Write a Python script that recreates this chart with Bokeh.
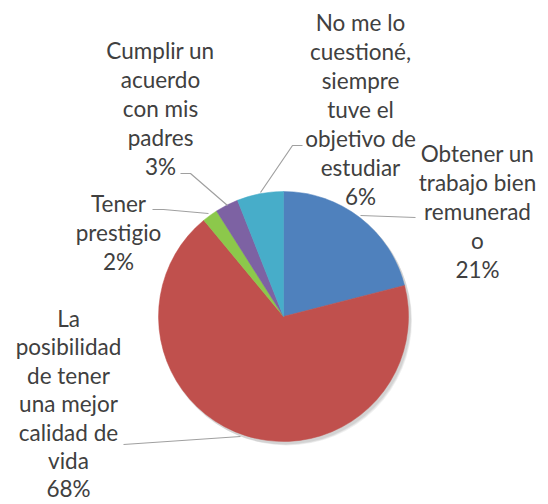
import math
from bokeh.plotting import figure
from bokeh.models import Range1d
from bokeh.core.properties import value
from bokeh.embed import file_html
from bokeh.resources import INLINE

# ---- data ----
categories = [
    "Obtener un trabajo bien remunerado",
    "La posibilidad de tener una mejor calidad de vida",
    "Tener prestigio",
    "Cumplir un acuerdo con mis padres",
    "No me lo cuestioné, siempre tuve el objetivo de estudiar",
]
label_lines = [
    ["Obtener un", "trabajo bien", "remunerad", "o"],
    ["La", "posibilidad", "de tener", "una mejor", "calidad de", "vida"],
    ["Tener", "prestigio"],
    ["Cumplir un", "acuerdo", "con mis", "padres"],
    ["No me lo", "cuestioné,", "siempre", "tuve el", "objetivo de", "estudiar"],
]
percent = [21, 68, 2, 3, 6]
colors = ["#4F81BD", "#C0504D", "#8CC84B", "#7D62A3", "#47ADC9"]

# ---- layout ----
W, H = 548, 504
CX, CY, R = 283, 188, 125
label_pos = [(477, 351), (68, 186), (118, 301), (160, 454), (360, 482)]
line_h = [29, 28.4, 29, 29, 29]
leaders = [
    ([360, 415], [289, 287]),
    ([123, 240], [60, 68]),
    ([152, 163, 208], [295, 295, 291]),
    ([180, 190, 227], [331, 331, 299]),
    ([260, 292, 302], [312, 359, 359]),
]

p = figure(width=W, height=H, output_backend="svg", toolbar_location=None,
           x_range=Range1d(0, W), y_range=Range1d(0, H), min_border=0)
p.axis.visible = False
p.grid.visible = False
p.outline_line_color = None
p.background_fill_color = "white"

# shadow
for i, a in enumerate([0.06, 0.06, 0.06]):
    p.circle(x=[CX + 1.5 + i], y=[CY - 2 - i], radius=R + 1 - i * 0.5,
             fill_color="black", fill_alpha=a, line_color=None)

total = sum(percent)
start = math.pi / 2
starts, ends = [], []
for v in percent:
    end = start - 2 * math.pi * v / total
    starts.append(start)
    ends.append(end)
    start = end

p.wedge(x=[CX] * len(percent), y=[CY] * len(percent), radius=R,
        start_angle=ends, end_angle=starts, direction="anticlock",
        fill_color=colors, line_color=colors, line_width=0.5)

for xs, ys in leaders:
    p.line(xs, ys, line_color="#A0A0A0", line_width=1.2)

font = value("Lato")
for (lx, ly), lh, lines, v in zip(label_pos, line_h, label_lines, percent):
    all_lines = lines + [f"{v}%"]
    p.text(x=[lx] * len(all_lines), y=[ly - i * lh for i in range(len(all_lines))],
           text=all_lines, text_font=font, text_font_size="22.5px",
           text_color="#404040", text_align="center", text_baseline="middle")

open("out.html", "w").write(file_html(p, INLINE))
